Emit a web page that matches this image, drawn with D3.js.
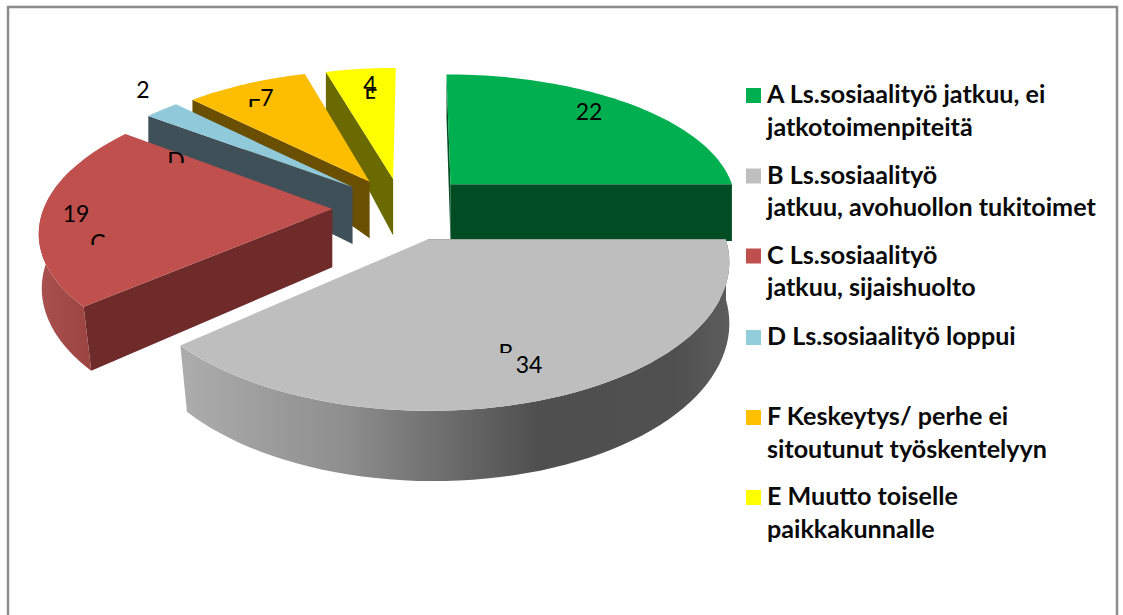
<!DOCTYPE html>
<html><head><meta charset="utf-8">
<script src="https://cdn.jsdelivr.net/npm/d3@7/dist/d3.min.js"></script>
<style>html,body{margin:0;padding:0;background:#fff;overflow:hidden}text{font-family:Lato,sans-serif}</style>
</head><body><svg id="c" width="1123" height="615"></svg>
<script>
const categories = ["A","B","C","D","F","E"];
const values = [22,34,19,2,7,4];
const topColors = ["#00b050","#bebebe","#c0504d","#8fc9da","#fdbd00","#ffff00"];
const cutColors = ["#004d23","#5a5a5a","#6e2b2a","#3f5059","#6b4f00","#6b6a00"];
const legendColors = ["#00b050","#bfbfbf","#c0504d","#92cddc","#ffc000","#ffff00"];
const legendLines = [
 ["A Ls.sosiaalityö jatkuu, ei","jatkotoimenpiteitä"],
 ["B Ls.sosiaalityö","jatkuu, avohuollon tukitoimet"],
 ["C Ls.sosiaalityö","jatkuu, sijaishuolto"],
 ["D Ls.sosiaalityö loppui"],
 ["F Keskeytys/ perhe ei","sitoutunut työskentelyyn"],
 ["E Muutto toiselle","paikkakunnalle"]];
const legendBaselines = [103,183.5,263.5,345,425,505];
const valueLabelPos = [[589,120],[529,373],[76,222],[143,98],[267,106],[370,93]];
const catLabelPos = [null,[506,361],[98,251],[176,169],[254,116],[371,106]];
const catClipBottom = [null,353,245,163,107,99];
// layout fitting of the original's 3-D rendering
const farStartHeight = [43,null,null,28,13,38];
const sliceDu = [0,0,-0.02,-0.011,-0.008,-0.009];
const sliceDv = [-0.03,0,-0.012,-0.02,-0.015,-0.006];
const radiusV = [0.975,1.025,1.01,1,1,1];

const svg = d3.select("#c");
const defs = svg.append("defs");
function grad(id, stops, x1, x2){
  const g = defs.append("linearGradient").attr("id",id).attr("gradientUnits","userSpaceOnUse")
    .attr("x1",x1).attr("x2",x2).attr("y1",0).attr("y2",0);
  stops.forEach(s=>g.append("stop").attr("offset",s[0]).attr("stop-color",s[1]));
}
grad("wallB",[[0,"#adadad"],[0.3,"#8e8e8e"],[0.65,"#4f4f4f"],[0.9,"#505050"],[1,"#5c5c5c"]],180,730);
grad("wallC",[[0,"#a8504d"],[1,"#9c4441"]],40,90);

svg.append("path").attr("d","M8,615V7H1117V615").attr("fill","none").attr("stroke","#8c8c8c").attr("stroke-width",2.5);

// perspective projection of the ground plane
const xc=416, yc=240, R=298, persp=0.143, yK=1000, depth=60, converge=0.012, convergeX=730;
const shiftScale=d3.scaleLinear().domain([-0.35,0.45]).range([0,1]).clamp(true);
function proj(u,v,h,shift){
  const s=1/(1-persp*v);
  const x=xc+u*R*s;
  return h ? [x+(shift?(convergeX-x)*converge*shiftScale(v):0), yc+yK*(s-1)+depth*s] : [x, yc+yK*(s-1)];
}
const uc=-0.04, vc=-0.22, explode=0.23;
const pie=d3.pie().sort(null).value(d=>d).startAngle(0).endAngle(2*Math.PI);
const arcs=pie(values);
const line=d3.line();
const closed=pts=>line(pts)+"Z";

function sliceGeom(a,i){
  const m=(a.startAngle+a.endAngle)/2;
  const au=uc+explode*Math.sin(m)+sliceDu[i], av=vc-explode*Math.cos(m)+sliceDv[i];
  const at=(t,h)=>proj(au+Math.sin(t),av-Math.cos(t)*radiusV[i],h,true);
  const ts=d3.range(0,61).map(k=>a.startAngle+(a.endAngle-a.startAngle)*k/60);
  return {apex:h=>proj(au,av,h,false),at,ts};
}
// paint far slices first
const order=[5,4,3,2,0,1];
order.forEach(i=>{
  const a=arcs[i], g=sliceGeom(a,i), G=svg.append("g");
  const startCorner=()=>{
    const p=g.at(a.startAngle,false);
    return farStartHeight[i]!=null ? [p[0],p[1]+farStartHeight[i]] : g.at(a.startAngle,true);
  };
  // cut faces: the closing face only shows on a slice that ends in the right half
  if(a.endAngle<=Math.PI)
    G.append("path").attr("d",closed([g.apex(false),g.at(a.endAngle,false),g.at(a.endAngle,true),g.apex(true)])).attr("fill",cutColors[i]);
  G.append("path").attr("d",closed([g.apex(false),g.at(a.startAngle,false),startCorner(),g.apex(true)])).attr("fill",cutColors[i]);
  // outer wall (slightly past the leftmost point, where the lower rim still shows)
  const vis=g.ts.filter(t=>t>=Math.PI/2&&t<=Math.PI*1.6);
  if(vis.length>1){
    const pts=vis.map(t=>g.at(t,false)).concat(vis.slice().reverse().map(t=>g.at(t,true)));
    G.append("path").attr("d",closed(pts)).attr("fill",i===1?"url(#wallB)":i===2?"url(#wallC)":cutColors[i]);
  }
  // top
  G.append("path").attr("d",closed([g.apex(false)].concat(g.ts.map(t=>g.at(t,false))))).attr("fill",topColors[i]);
});

// data labels
values.forEach((v,i)=>{
  svg.append("text").attr("x",valueLabelPos[i][0]).attr("y",valueLabelPos[i][1])
    .attr("text-anchor","middle").attr("font-size",23).attr("fill","#000").text(v);
});
// clipped category labels
categories.forEach((c,i)=>{
  if(!catLabelPos[i]) return;
  const id="clip"+i;
  defs.append("clipPath").attr("id",id).append("rect")
    .attr("x",catLabelPos[i][0]-20).attr("y",catClipBottom[i]-30).attr("width",40).attr("height",30);
  svg.append("g").attr("clip-path","url(#"+id+")").append("text")
    .attr("x",catLabelPos[i][0]).attr("y",catLabelPos[i][1])
    .attr("text-anchor","middle").attr("font-size",23).attr("fill","#000").text(c);
});
// legend
legendLines.forEach((ls,i)=>{
  const b=legendBaselines[i];
  svg.append("rect").attr("x",746).attr("y",b-15).attr("width",15).attr("height",15).attr("fill",legendColors[i]);
  ls.forEach((t,j)=>{
    svg.append("text").attr("transform","translate(767,"+(b+j*32.5)+") scale(1.047,1)")
      .attr("font-size",24).attr("font-weight",700).attr("fill","#0a0a0a").text(t);
  });
});
</script></body></html>
